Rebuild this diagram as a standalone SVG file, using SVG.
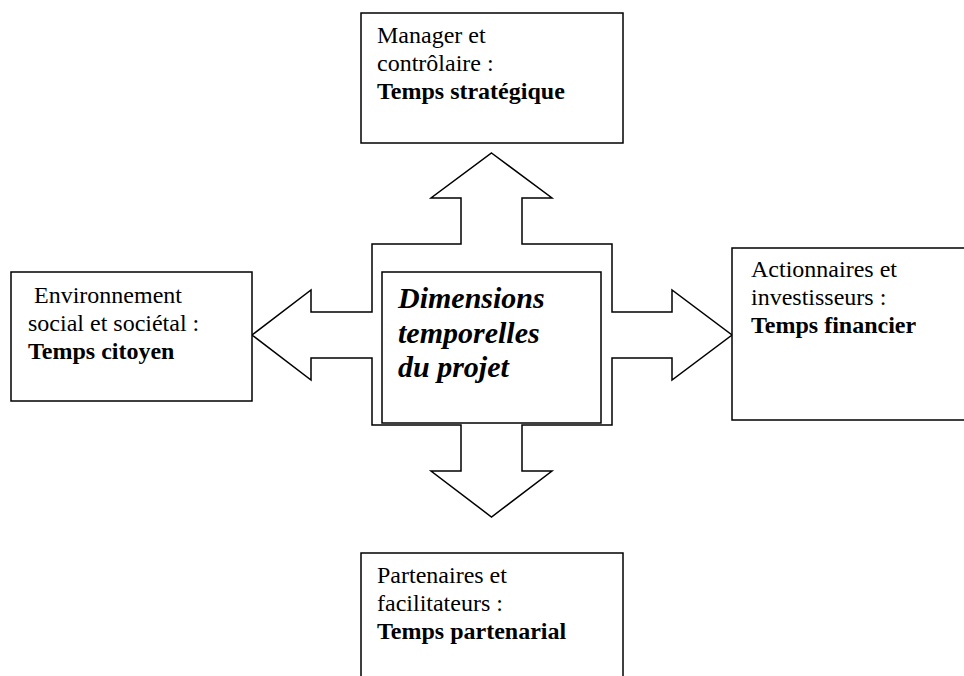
<svg xmlns="http://www.w3.org/2000/svg" width="964" height="676" viewBox="0 0 964 676">
<style>
.box{fill:#fff;stroke:#000;stroke-width:1.5}
.arrow{fill:#fff;stroke:#000;stroke-width:1.5;stroke-linejoin:miter}
text{font-family:"Liberation Serif","Times New Roman",serif;font-size:24px;fill:#000}
.b{font-weight:bold}
.c{font-weight:bold;font-style:italic;font-size:30px}
</style>
<rect width="964" height="676" fill="#fff"/>
<g id="connectors">
<polygon class="arrow" points="491.5,153 552,198 522,198 522,244 612,244 612,312 672,312 672,290 732,335 672,380 672,358 612,358 612,425 522,425 522,471 552,471 491.5,517 431,471 461,471 461,425 372,425 372,358 311,358 311,380 252,335 311,290 311,312 372,312 372,244 461,244 461,198 431,198"/>
</g>
<g id="center">
<rect class="box" x="382" y="272" width="219" height="151"/>
<text class="c" x="398" y="308">Dimensions</text>
<text class="c" x="398" y="343">temporelles</text>
<text class="c" x="398" y="377">du projet</text>
</g>
<g id="top">
<rect class="box" x="361" y="13" width="262" height="130"/>
<text x="377" y="43">Manager et</text>
<text x="377" y="71">contrôlaire :</text>
<text class="b" x="377" y="99">Temps stratégique</text>
</g>
<g id="left">
<rect class="box" x="11" y="272" width="241" height="129"/>
<text x="28" y="303" xml:space="preserve"> Environnement</text>
<text x="28" y="331">social et sociétal :</text>
<text class="b" x="28" y="359">Temps citoyen</text>
</g>
<g id="right">
<rect class="box" x="732" y="248" width="240" height="172"/>
<text x="751" y="277">Actionnaires et</text>
<text x="751" y="305">investisseurs :</text>
<text class="b" x="751" y="333">Temps financier</text>
</g>
<g id="bottom">
<rect class="box" x="361" y="553" width="262" height="140"/>
<text x="377" y="583">Partenaires et</text>
<text x="377" y="611">facilitateurs :</text>
<text class="b" x="377" y="639">Temps partenarial</text>
</g>
</svg>
